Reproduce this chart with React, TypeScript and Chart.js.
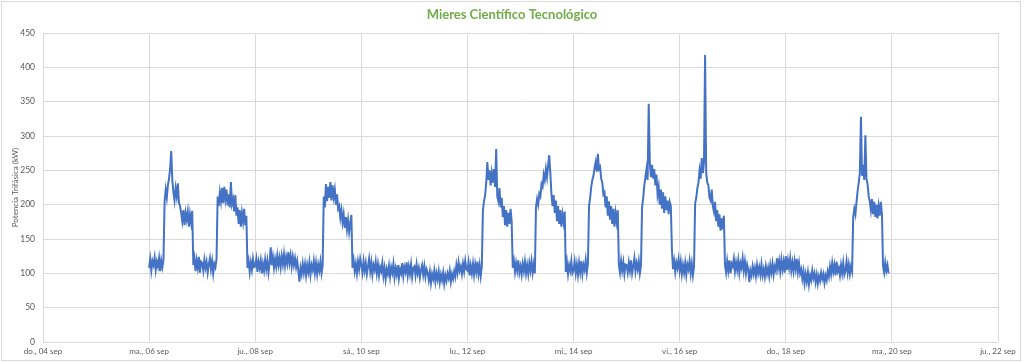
import React, { useEffect, useRef } from 'react';
import { Chart, registerables } from 'chart.js';

Chart.register(...registerables);

const chartTitle = 'Mieres Científico Tecnológico';
const yAxisTitle = 'Potencia Trifásica (kW)';
const xTickLabels = ['do., 04 sep', 'ma., 06 sep', 'ju., 08 sep', 'sá., 10 sep', 'lu., 12 sep', 'mi., 14 sep', 'vi., 16 sep', 'do., 18 sep', 'ma., 20 sep', 'ju., 22 sep'];
const yMin = 0;
const yMax = 450;
const yStep = 50;
// first data day is two days after the axis start (do., 04 sep)
const firstDataDayOffset = 2;
// readings every half hour
const readingsPerHour = 2;

// half-hourly power readings (kW) for each day, 00:00 .. 23:30
const sep06 = [108, 121, 104, 118, 112, 123, 105, 117, 110, 122, 103, 119, 109, 120, 205, 222, 210, 228, 238, 252, 278, 236, 218, 206, 224, 212, 231, 203, 198, 188, 176, 192, 170, 188, 178, 190, 168, 186, 174, 191, 112, 122, 103, 119, 108, 124, 101, 117];
const sep07 = [115, 104, 120, 108, 117, 101, 113, 122, 106, 118, 100, 114, 109, 121, 212, 198, 218, 205, 224, 202, 226, 208, 222, 199, 215, 196, 233, 201, 208, 190, 214, 184, 196, 172, 192, 168, 188, 175, 194, 170, 184, 108, 118, 102, 116, 105, 121, 109];
const sep08 = [110, 121, 102, 117, 108, 119, 100, 114, 104, 120, 106, 118, 101, 115, 138, 112, 124, 108, 121, 110, 126, 112, 123, 109, 125, 113, 128, 111, 124, 114, 131, 115, 126, 110, 124, 112, 122, 109, 118, 104, 88, 108, 99, 114, 101, 113, 97, 112];
const sep09 = [102, 116, 98, 112, 105, 118, 101, 115, 99, 113, 104, 117, 100, 111, 212, 196, 230, 205, 226, 210, 233, 206, 228, 211, 222, 200, 215, 194, 198, 181, 192, 174, 186, 166, 182, 164, 178, 160, 172, 185, 108, 119, 103, 114, 100, 117, 106, 121];
const sep10 = [112, 101, 118, 104, 115, 99, 110, 121, 103, 116, 98, 112, 105, 117, 100, 113, 97, 109, 103, 115, 96, 108, 92, 106, 99, 111, 95, 109, 101, 114, 94, 107, 98, 112, 93, 106, 100, 115, 96, 109, 102, 116, 97, 110, 99, 113, 95, 108];
const sep11 = [110, 97, 113, 100, 108, 94, 105, 112, 98, 110, 95, 106, 101, 90, 102, 86, 99, 92, 104, 88, 100, 91, 103, 87, 98, 90, 101, 85, 97, 89, 100, 93, 104, 88, 99, 92, 103, 95, 112, 101, 116, 104, 110, 99, 114, 103, 118, 106];
const sep12 = [104, 116, 97, 111, 100, 114, 98, 113, 102, 117, 99, 112, 96, 110, 192, 205, 214, 232, 262, 236, 250, 228, 246, 232, 252, 226, 281, 212, 205, 224, 196, 210, 182, 198, 170, 192, 168, 188, 172, 194, 176, 108, 118, 102, 115, 104, 119, 101];
const sep13 = [110, 98, 114, 103, 117, 100, 112, 99, 115, 104, 118, 101, 113, 100, 196, 208, 200, 216, 212, 230, 226, 244, 236, 252, 240, 258, 272, 246, 215, 198, 214, 188, 206, 176, 198, 172, 192, 168, 186, 174, 190, 102, 116, 99, 112, 104, 118, 100];
const sep14 = [104, 117, 100, 113, 98, 115, 102, 118, 99, 112, 105, 119, 101, 114, 198, 210, 226, 236, 242, 254, 262, 248, 274, 252, 255, 238, 232, 215, 218, 196, 212, 184, 205, 178, 198, 172, 194, 168, 188, 175, 192, 112, 101, 118, 104, 116, 99, 113];
const sep15 = [112, 101, 116, 104, 119, 100, 110, 122, 103, 115, 106, 118, 100, 111, 196, 210, 228, 240, 252, 236, 347, 262, 240, 258, 238, 252, 228, 244, 215, 226, 200, 222, 194, 218, 188, 212, 192, 206, 186, 204, 198, 134, 106, 118, 102, 116, 108, 120];
const sep16 = [104, 117, 99, 112, 101, 115, 98, 113, 106, 118, 100, 114, 97, 110, 202, 210, 224, 232, 250, 238, 268, 246, 262, 418, 246, 232, 228, 210, 206, 222, 198, 190, 204, 176, 192, 168, 186, 162, 180, 164, 184, 112, 101, 118, 104, 119, 100, 114];
const sep17 = [110, 121, 103, 116, 105, 119, 101, 115, 108, 122, 104, 117, 100, 113, 106, 87, 104, 97, 110, 99, 108, 96, 112, 100, 109, 98, 113, 97, 106, 95, 110, 99, 108, 96, 112, 101, 114, 98, 110, 104, 122, 107, 118, 103, 120, 106, 117, 101];
const sep18 = [125, 105, 119, 108, 122, 104, 116, 103, 118, 106, 121, 102, 115, 100, 106, 92, 103, 86, 99, 88, 101, 84, 97, 90, 104, 93, 100, 87, 98, 85, 96, 89, 101, 92, 99, 86, 97, 90, 103, 95, 110, 99, 115, 102, 112, 97, 117, 103];
const sep19 = [108, 97, 112, 100, 115, 98, 104, 118, 101, 113, 99, 110, 103, 182, 194, 186, 204, 220, 232, 246, 328, 242, 258, 236, 301, 238, 230, 212, 205, 192, 208, 186, 204, 182, 200, 180, 198, 184, 204, 186, 110, 101, 116, 104, 112, 100];

const dataDays = [sep06, sep07, sep08, sep09, sep10, sep11, sep12, sep13, sep14, sep15, sep16, sep17, sep18, sep19];

const FONT = 'Lato, "Open Sans", sans-serif';

export default function App() {
  const ref = useRef<HTMLCanvasElement | null>(null);

  useEffect(() => {
    if (!ref.current) return;
    const points: { x: number; y: number }[] = [];
    dataDays.forEach((vals, d) => {
      vals.forEach((v, i) => {
        points.push({ x: (firstDataDayOffset + d) * 24 + i / readingsPerHour, y: v });
      });
    });

    const framePlugin = {
      id: 'framePlugin',
      afterDraw(chart: any) {
        const ctx = chart.ctx;
        ctx.save();
        ctx.strokeStyle = '#D9D9D9';
        ctx.lineWidth = 1;
        ctx.strokeRect(1.5, 1.5, 1019, 359);
        ctx.fillStyle = '#70AD47';
        ctx.font = `bold 13px ${FONT}`;
        ctx.textAlign = 'center';
        ctx.textBaseline = 'middle';
        ctx.fillText(chartTitle, 512, 15);
        ctx.restore();
      },
    };

    const chart = new Chart(ref.current, {
      type: 'line',
      data: {
        datasets: [
          {
            data: points,
            borderColor: '#4472C4',
            borderWidth: 2,
            pointRadius: 0,
            tension: 0,
            fill: false,
          },
        ],
      },
      options: {
        animation: false,
        responsive: false,
        layout: { padding: { top: 33, right: 26, bottom: 0, left: 0 } },
        plugins: {
          legend: { display: false },
          tooltip: { enabled: false },
          title: { display: false },
        },
        scales: {
          x: {
            type: 'linear',
            min: 0,
            max: (xTickLabels.length - 1) * 48,
            afterFit: (axis: any) => {
              axis.height = 20;
            },
            afterBuildTicks: (axis: any) => {
              axis.ticks = xTickLabels.map((_, i) => ({ value: i * 48 }));
            },
            ticks: {
              autoSkip: false,
              maxRotation: 0,
              padding: 5,
              color: '#595959',
              font: { family: FONT, size: 8 },
              callback: (v: any) => xTickLabels[Math.round(Number(v) / 48)] ?? '',
            },
            grid: { color: '#D9D9D9', lineWidth: 1, drawTicks: false },
            border: { display: false },
          },
          y: {
            min: yMin,
            max: yMax,
            afterFit: (axis: any) => {
              axis.width = 43;
            },
            ticks: {
              stepSize: yStep,
              padding: 8,
              color: '#595959',
              font: { family: FONT, size: 8.5 },
            },
            grid: { color: '#D9D9D9', lineWidth: 1, drawTicks: false },
            border: { display: false },
            title: {
              display: true,
              text: yAxisTitle,
              color: '#595959',
              font: { family: FONT, size: 8 },
              padding: { top: 11, bottom: 0 },
            },
          },
        },
      },
      plugins: [framePlugin],
    });
    return () => chart.destroy();
  }, []);

  return (
    <div style={{ position: 'absolute', left: 0, top: 0, width: 1024, height: 362, background: '#fff' }}>
      <canvas ref={ref} width={1024} height={362} style={{ display: 'block' }} />
    </div>
  );
}
